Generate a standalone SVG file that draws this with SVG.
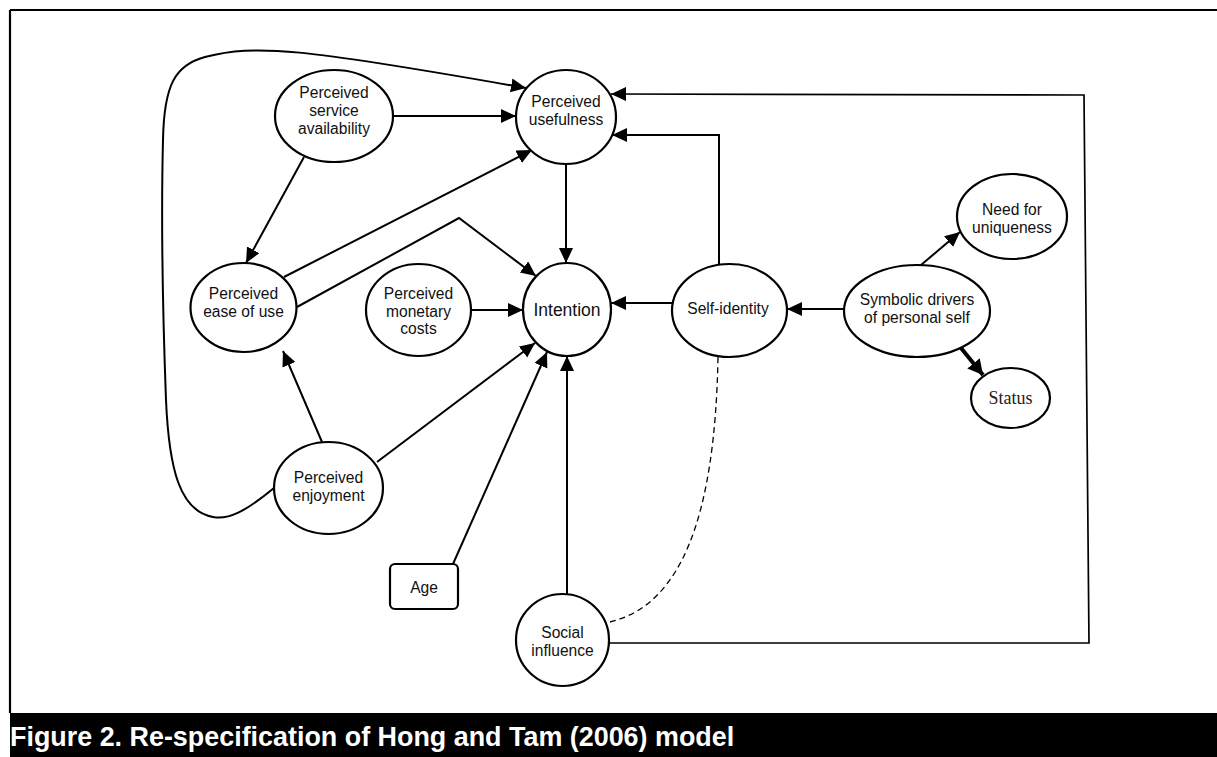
<svg xmlns="http://www.w3.org/2000/svg" width="1217" height="757" viewBox="0 0 1217 757">
<defs>
<style>
.node{fill:#fff;stroke:#000;stroke-width:2.2}
.lbl{font-family:"Liberation Sans",Arial,sans-serif;font-size:15.6px;fill:#111;text-anchor:middle}
.big{font-size:17.5px}
.serif{font-family:"Liberation Serif","Times New Roman",serif;font-size:18px;fill:#222}
.edge{fill:none;stroke:#000;stroke-width:2;marker-end:url(#arr)}
</style>
<marker id="arr" markerUnits="userSpaceOnUse" markerWidth="17" markerHeight="15" refX="15" refY="7" orient="auto" viewBox="0 0 17 15">
<path d="M0,0 L15,7 L0,14 z" fill="#000"/>
</marker>
<marker id="arrBig" markerUnits="userSpaceOnUse" markerWidth="18" markerHeight="18" refX="15" refY="8" orient="auto" viewBox="0 0 18 18">
<path d="M0,0 L15,8 L0,16 z" fill="#000"/>
</marker>
</defs>
<rect width="1217" height="757" fill="#fff"/>
<path d="M10,10 L1217,10 M10,10 L10,713" stroke="#000" stroke-width="2.2" fill="none"/>
<rect x="10" y="713" width="1207" height="44" fill="#000"/>
<text x="10" y="746" font-family="'Liberation Sans',Arial,sans-serif" font-weight="bold" font-size="26.9" fill="#fff">Figure 2. Re-specification of Hong and Tam (2006) model</text>

<g id="connectors">
<path class="edge" d="M274,488 C245,512 228,520 213,517 C180,511 169,470 166,400 C163,320 161,220 163,140 C164,85 175,65 205,57 C255,44 300,48 526,88"/>
<path class="edge" d="M393,116 L516,116"/>
<path class="edge" d="M304,157 L246,263"/>
<path class="edge" d="M284,277 L532,150"/>
<path class="edge" d="M297,307 L459,218 L536,276"/>
<path class="edge" d="M566,163 L566,263"/>
<path class="edge" d="M471,310 L523,310"/>
<path class="edge" d="M322,442 L283,351"/>
<path class="edge" d="M377,462 L535,343"/>
<path class="edge" d="M453,564 L547,352"/>
<path class="edge" d="M567,594 L567,356"/>
<path class="edge" d="M672,303 L611,303"/>
<path class="edge" d="M844,309 L787,309"/>
<path class="edge" d="M921,265 L960,232"/>
<path d="M961,348 L983,375" fill="none" stroke="#000" stroke-width="4" marker-end="url(#arrBig)"/>
<path class="edge" d="M719,264 L719,135 L612,135"/>
<path class="edge" style="stroke-width:1.7" d="M609,643 L1089,643 L1084,95 L611,94"/>
<path d="M718,357 C715,520 680,605 610,622" fill="none" stroke="#000" stroke-width="1.3" stroke-dasharray="6,4"/>
</g>

<g id="perceived-usefulness">
<ellipse class="node" cx="566" cy="117" rx="50" ry="47"/>
<text class="lbl" x="566" y="107">Perceived</text>
<text class="lbl" x="566" y="125">usefulness</text>
</g>
<g id="perceived-service-availability">
<ellipse class="node" cx="334" cy="116" rx="59" ry="46"/>
<text class="lbl" x="334" y="98">Perceived</text>
<text class="lbl" x="334" y="116">service</text>
<text class="lbl" x="334" y="134">availability</text>
</g>
<g id="perceived-ease-of-use">
<ellipse class="node" cx="243.5" cy="307.5" rx="53" ry="44.5"/>
<text class="lbl" x="243.5" y="298.5">Perceived</text>
<text class="lbl" x="243.5" y="316.5">ease of use</text>
</g>
<g id="perceived-monetary-costs">
<ellipse class="node" cx="418.5" cy="310" rx="52.5" ry="46"/>
<text class="lbl" x="418.5" y="298.5">Perceived</text>
<text class="lbl" x="418.5" y="316.5">monetary</text>
<text class="lbl" x="418.5" y="334">costs</text>
</g>
<g id="intention">
<ellipse class="node" cx="567" cy="309.5" rx="44" ry="46.5"/>
<text class="lbl big" x="567" y="315.5">Intention</text>
</g>
<g id="self-identity">
<ellipse class="node" cx="729.5" cy="310.5" rx="57.5" ry="46.5"/>
<text class="lbl" x="728" y="313.5">Self-identity</text>
</g>
<g id="symbolic-drivers">
<ellipse class="node" cx="917" cy="311" rx="73" ry="46"/>
<text class="lbl" x="917" y="304.5">Symbolic drivers</text>
<text class="lbl" x="917" y="322.5">of personal self</text>
</g>
<g id="need-for-uniqueness">
<ellipse class="node" cx="1012" cy="216.5" rx="55" ry="42.5"/>
<text class="lbl" x="1012" y="214.5">Need for</text>
<text class="lbl" x="1012" y="232.5">uniqueness</text>
</g>
<g id="status">
<ellipse class="node" cx="1010.5" cy="398" rx="39.5" ry="30"/>
<text class="serif" x="1010.5" y="404" text-anchor="middle">Status</text>
</g>
<g id="perceived-enjoyment">
<ellipse class="node" cx="328.5" cy="488" rx="54.5" ry="46"/>
<text class="lbl" x="328.5" y="482.5">Perceived</text>
<text class="lbl" x="328.5" y="500.5">enjoyment</text>
</g>
<g id="age">
<rect class="node" x="390" y="564" width="68" height="45" rx="5"/>
<text class="lbl" x="424" y="592.5">Age</text>
</g>
<g id="social-influence">
<ellipse class="node" cx="562.5" cy="640" rx="46.5" ry="46"/>
<text class="lbl" x="562.5" y="637.5">Social</text>
<text class="lbl" x="562.5" y="655.5">influence</text>
</g>
</svg>
